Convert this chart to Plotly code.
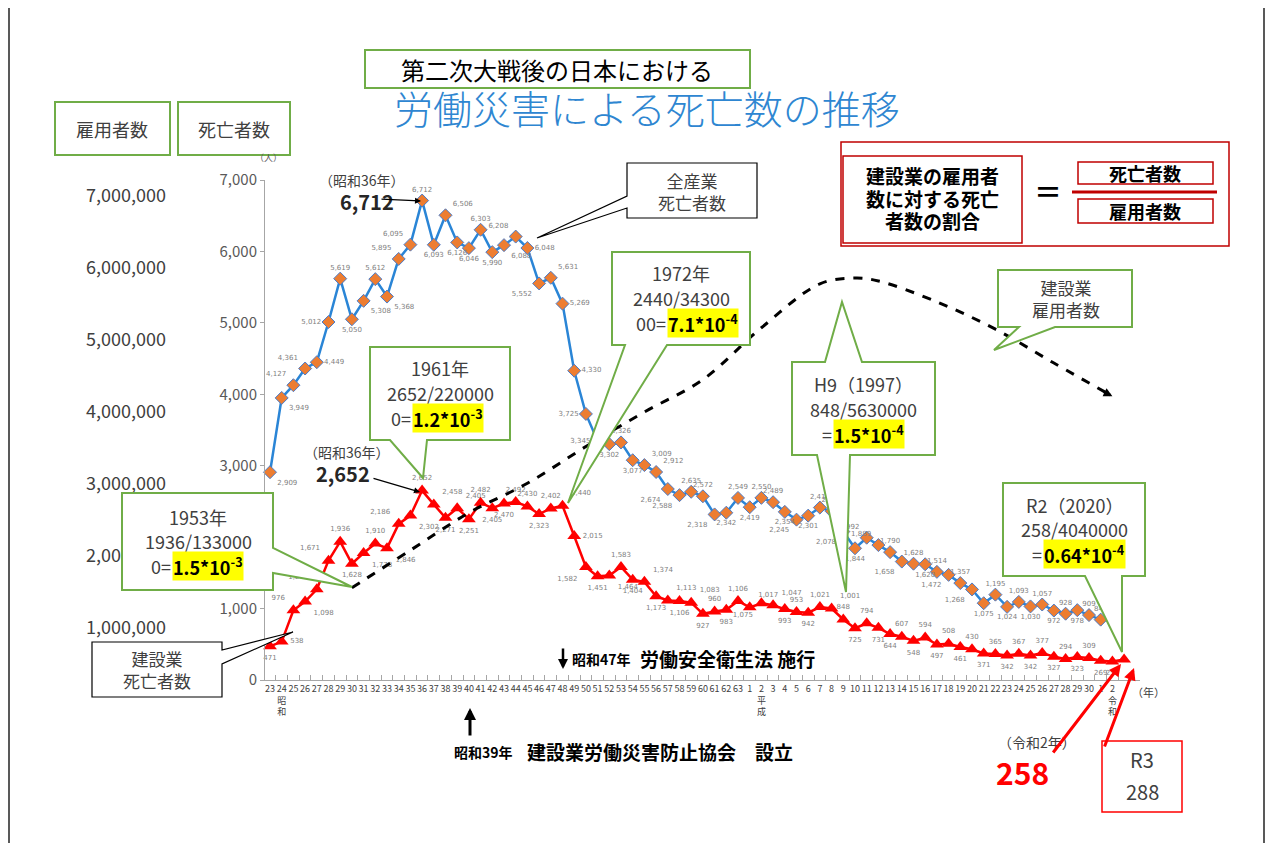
import plotly.graph_objects as go

# ---------------- data ----------------
years = list(range(1948, 2021))  # 昭和23年 .. 令和2年
tick_labels = [
    "23", "24<br>昭<br>和", "25", "26", "27", "28", "29", "30", "31", "32", "33", "34", "35", "36", "37", "38",
    "39", "40", "41", "42", "43", "44", "45", "46", "47", "48", "49", "50", "51", "52", "53", "54", "55",
    "56", "57", "58", "59", "60", "61", "62", "63",
    "1", "2<br>平<br>成", "3", "4", "5", "6", "7", "8", "9", "10", "11", "12", "13", "14", "15", "16", "17",
    "18", "19", "20", "21", "22", "23", "24", "25", "26", "27", "28", "29", "30",
    "1", "2<br>令<br>和",
]

# 全産業 死亡者数 (昭和23年 .. 令和元年)
all_industry_deaths = [
    2909, 3949, 4127, 4361, 4449, 5012, 5619, 5050, 5308, 5612,
    5368, 5895, 6095, 6712, 6093, 6506, 6126, 6046, 6303, 5990,
    6088, 6208, 6048, 5552, 5631, 5269, 4330, 3725, 3345, 3302,
    3326, 3077, 3009, 2912, 2674, 2588, 2635, 2572, 2318, 2342,
    2549,
    2419, 2550, 2489, 2354, 2245, 2301, 2414, 2363, 2078, 1844,
    1992, 1889, 1790, 1658, 1628, 1620, 1514, 1472, 1357, 1268,
    1075, 1195, 1024, 1093, 1030, 1057, 972, 928, 978, 909,
    845,
]

# 建設業 死亡者数 (昭和23年 .. 令和2年)
construction_deaths = [
    471, 538, 976, 1098, 1270, 1671, 1936, 1628, 1778, 1910,
    1846, 2186, 2302, 2652, 2458, 2271, 2405, 2251, 2482, 2405,
    2470, 2492, 2430, 2323, 2402, 2440, 2015, 1582, 1451, 1464,
    1583, 1404, 1374, 1173, 1113, 1106, 1083, 927, 960, 983,
    1106,
    1017, 1075, 1047, 993, 953, 942, 1021, 1001, 848, 725,
    794, 731, 644, 607, 548, 594, 497, 508, 461, 430,
    371, 365, 342, 367, 342, 377, 327, 294, 323, 309,
    269, 258,
]
r3_year = 2021
r3_value = 288

# 建設業 雇用者数 (estimated from the drawn curve)
emp_years = [1955, 1960, 1965, 1970, 1975, 1980, 1985, 1990, 1995, 1998, 2000, 2005, 2010, 2015, 2020]
emp_values = [1560000, 2080000, 2600000, 3010000, 3520000, 4000000, 4450000, 5170000, 5780000,
              5860000, 5820000, 5530000, 5150000, 4680000, 4220000]

# ---------------- styles ----------------
FONT = "Noto Sans CJK JP"
GREEN = "#70AD47"
DARK = "#404040"
PAGE_OFF = 8                                   # default body margin of the html page
FIG_W, FIG_H = 1280 - 2 * PAGE_OFF, 851 - 2 * PAGE_OFF
L_PX, R_PX, T_PX, B_PX = 40, 1140, 180, 680    # paper box in page pixels

blue_pos = [
    "bottom right", "bottom right", "top left", "top left", "middle right", "middle left", "top center",
    "bottom center", "bottom right", "top center", "bottom right", "top left", "top left", "top center",
    "bottom center", "top right", "bottom center", "bottom center", "top center", "bottom center",
    "bottom right", "top left", "middle right", "bottom left", "top right", "middle right", "middle right",
    "middle left", "middle left", "bottom center", "top center", "bottom center", "top right", "top right",
    "bottom left", "bottom left", "top center", "top center", "bottom left", "bottom center", "top center",
    "bottom center", "top center", "top center", "bottom center", "bottom left", "bottom center",
    "top center", "top center", "bottom left", "bottom center", "top left", "top left", "top center",
    "bottom left", "top center", "bottom center", "top center", "bottom left", "top center", "bottom left",
    "bottom center", "top center", "bottom center", "top center", "bottom center", "top center",
    "bottom center", "top center", "bottom center", "top center", "top center",
]
red_pos = [
    "bottom center", "middle right", "top left", "bottom right", "top left", "top left", "top center",
    "bottom center", "bottom right", "top center", "bottom right", "top left", "bottom right", "top center",
    "top right", "bottom center", "top right", "bottom center", "top center", "bottom center",
    "bottom center", "top center", "top center", "bottom center", "top center", "top right", "middle right",
    "bottom left", "bottom center", "bottom right", "top center", "bottom center", "top right",
    "bottom center", "top right", "bottom center", "top right", "bottom center", "top center",
    "bottom center", "top center",
    "top right", "bottom left", "top right", "bottom center", "top center", "bottom center", "top center",
    "top right", "top center", "bottom center", "top center", "bottom center", "bottom center", "top center",
    "bottom center", "top center", "bottom center", "top center", "bottom center", "top center",
    "bottom center", "top center", "bottom center", "top center", "bottom center", "top center",
    "bottom center", "top center", "bottom center", "top center", "bottom center", "bottom center",
    "top center",
]


def P(x, y):
    return (x - L_PX) / (R_PX - L_PX), (B_PX - y) / (B_PX - T_PX)


def txt(x, y, s, size, color=DARK, bold=False, xanchor="center", yanchor="middle", bg=None, weight=None):
    X, Y = P(x, y)
    if bold:
        s = f"<b>{s}</b>"
    f = dict(family=FONT, size=size, color=color)
    if weight:
        f["weight"] = weight
    d = dict(x=X, y=Y, xref="paper", yref="paper", text=s, showarrow=False,
             font=f, xanchor=xanchor, yanchor=yanchor, borderpad=0)
    if bg:
        d["bgcolor"] = bg
    return d


def arrow(xt, yt, xh, yh, color="#000000", width=1.2, head=2, size=1.0):
    X, Y = P(xh, yh)
    return dict(x=X, y=Y, xref="paper", yref="paper", ax=xt - xh, ay=yt - yh, axref="pixel", ayref="pixel",
                text="", showarrow=True, arrowhead=head, arrowwidth=width, arrowcolor=color,
                arrowsize=size, standoff=0)


def rect(x0, y0, x1, y1, color=GREEN, width=2, fill="white"):
    X0, Y0 = P(x0, y0)
    X1, Y1 = P(x1, y1)
    return dict(type="rect", xref="paper", yref="paper", x0=X0, y0=Y1, x1=X1, y1=Y0,
                line=dict(color=color, width=width), fillcolor=fill, layer="above")


def line(x0, y0, x1, y1, color, width):
    X0, Y0 = P(x0, y0)
    X1, Y1 = P(x1, y1)
    return dict(type="line", xref="paper", yref="paper", x0=X0, y0=Y0, x1=X1, y1=Y1,
                line=dict(color=color, width=width), layer="above")


def poly(points, color=GREEN, width=2, fill="white"):
    parts = []
    for i, (x, y) in enumerate(points):
        X, Y = P(x, y)
        parts.append(("M" if i == 0 else "L") + f"{X:.5f},{Y:.5f}")
    return dict(type="path", xref="paper", yref="paper", path=" ".join(parts) + " Z",
                line=dict(color=color, width=width), fillcolor=fill, layer="above")


# ---------------- traces ----------------
fig = go.Figure()

fig.add_trace(go.Scatter(
    x=years[:len(all_industry_deaths)], y=all_industry_deaths, mode="lines+markers+text",
    line=dict(color="#2A85D6", width=2.5),
    marker=dict(symbol="diamond", size=10, color="#ED7D31", line=dict(color="#4A7CC9", width=1)),
    text=[f"{v:,}" for v in all_industry_deaths], textposition=blue_pos,
    textfont=dict(family="DejaVu Sans", size=7, color="#808080"),
    cliponaxis=False, showlegend=False, hoverinfo="skip",
))

red_x = years[:len(construction_deaths)] + [r3_year]
red_y = construction_deaths + [r3_value]
fig.add_trace(go.Scatter(
    x=red_x, y=red_y, mode="lines+markers+text",
    line=dict(color="#FF0000", width=2.5),
    marker=dict(symbol="triangle-up", size=12, color="#FF0000"),
    text=[f"{v:,}" for v in construction_deaths] + [""], textposition=red_pos,
    textfont=dict(family="DejaVu Sans", size=7, color="#808080"),
    cliponaxis=False, showlegend=False, hoverinfo="skip",
))

fig.add_trace(go.Scatter(
    x=emp_years, y=emp_values, yaxis="y2", mode="lines",
    line=dict(color="#000000", width=3, dash="dash", shape="spline", smoothing=1.0),
    showlegend=False, hoverinfo="skip", cliponaxis=False,
))

# ---------------- shapes ----------------
shapes = []
# slide borders
for bx in (9, 1264):
    shapes.append(dict(type="line", xref="paper", yref="paper", x0=P(bx, 0)[0], x1=P(bx, 0)[0],
                       y0=P(0, 8)[1], y1=P(0, 851)[1], line=dict(color="#222222", width=1.5), layer="above"))
# title box
shapes.append(rect(365, 50, 750, 88))
# header boxes
shapes.append(rect(55, 102, 170, 155))
shapes.append(rect(178, 102, 290, 155))
# formula box
shapes.append(rect(841, 142, 1229, 246, color="#C00000", width=1.5))
shapes.append(rect(843, 156, 1022, 243, color="#C00000", width=1.5))
shapes.append(line(1072, 192, 1217, 192, "#C00000", 3))
shapes.append(rect(1078, 162, 1213, 184, color="#C00000", width=1.5))
shapes.append(rect(1078, 199, 1213, 223, color="#C00000", width=1.5))
# callouts
shapes.append(poly([(627, 163), (757, 163), (757, 218), (627, 218), (627, 208), (537, 238), (627, 196)],
                   color="#000000", width=1.2))
shapes.append(poly([(998, 270), (1132, 270), (1132, 327), (1055, 327), (994, 350), (1019, 327), (998, 327)]))
shapes.append(poly([(92, 642), (222, 642), (222, 650), (293, 632), (222, 664), (222, 697), (92, 697)],
                   color="#000000", width=1.2))
shapes.append(poly([(122, 493), (273, 493), (273, 548), (352, 587), (273, 573), (273, 590), (122, 590)]))
shapes.append(poly([(370, 347), (510, 347), (510, 440), (427, 440), (423, 478), (390, 440), (370, 440)]))
shapes.append(poly([(612, 252), (750, 252), (750, 345), (667, 345), (568, 503), (625, 345), (612, 345)]))
shapes.append(poly([(792, 362), (825, 362), (842, 302), (862, 362), (935, 362), (935, 455), (850, 455),
                    (846, 592), (817, 455), (792, 455)]))
shapes.append(poly([(1003, 483), (1145, 483), (1145, 576), (1122, 576), (1122, 652), (1085, 576),
                    (1003, 576)]))
# R3 box
shapes.append(rect(1102, 741, 1182, 812, color="#FF0000", width=1.5))

# ---------------- annotations ----------------
ann = []
ann.append(txt(557, 69, "第二次大戦後の日本における", 24, "#000000"))
ann.append(txt(647, 107, "労働災害による死亡数の推移", 39, "#2E86D1", weight=300))
ann.append(txt(112, 129, "雇用者数", 18))
ann.append(txt(234, 129, "死亡者数", 18))
ann.append(txt(268, 158, "（人）", 9, "#595959"))
ann.append(txt(1148, 692, "（年）", 11))

# formula
for yy, s in [(175, "建設業の雇用者"), (198, "数に対する死亡"), (221, "者数の割合")]:
    ann.append(txt(932, yy, s, 19, "#000000", bold=True))
ann.append(txt(1048, 191, "＝", 28, "#000000", bold=True))
ann.append(txt(1145, 173, "死亡者数", 18, "#000000", bold=True))
ann.append(txt(1145, 211, "雇用者数", 18, "#000000", bold=True))

# peak notes
ann.append(txt(362, 180, "（昭和36年）", 14))
ann.append(txt(367, 201, "6,712", 20, "#262626", bold=True))
ann.append(arrow(380, 199, 421, 201))
ann.append(txt(347, 452, "（昭和36年）", 14))
ann.append(txt(343, 473, "2,652", 20, "#262626", bold=True))
ann.append(arrow(372, 478, 420, 492))

# callout texts
ann.append(txt(692, 191, "全産業<br>死亡者数", 17))
ann.append(txt(1066, 298, "建設業<br>雇用者数", 17))
ann.append(txt(157, 669, "建設業<br>死亡者数", 17))

HL = "#FFFF00"


def ratio_box(cx, ys, l1, l2, pre, hl, split_x):
    return [txt(cx, ys[0], l1, 18), txt(cx, ys[1], l2, 18),
            txt(split_x, ys[2], pre, 18, xanchor="right"),
            txt(split_x, ys[2], hl, 18, "#000000", bold=True, xanchor="left", bg=HL)]


ann += ratio_box(198, (517, 541, 566), "1953年", "1936/133000", "0=", "1.5*10<sup>-3</sup>", 172)
ann += ratio_box(440, (368, 393, 418), "1961年", "2652/220000", "0=", "1.2*10<sup>-3</sup>", 412)
ann += ratio_box(681, (273, 298, 323), "1972年", "2440/34300", "00=", "7.1*10<sup>-4</sup>", 667)
ann += ratio_box(863, (384, 409, 434), "H9（1997）", "848/5630000", "=", "1.5*10<sup>-4</sup>", 833)
ann += ratio_box(1074, (505, 529, 554), "R2（2020）", "258/4040000", "=", "0.64*10<sup>-4</sup>", 1043)

# bottom notes
ann.append(arrow(563, 647, 563, 669, width=2.5, head=2, size=0.8))
ann.append(txt(571, 659, "昭和47年", 14, "#000000", bold=True, xanchor="left"))
ann.append(txt(639, 658, "労働安全衛生法 施行", 19, "#000000", bold=True, xanchor="left"))
ann.append(arrow(470, 737, 470, 708, width=3, head=2, size=0.8))
ann.append(txt(453, 752, "昭和39年", 14, "#000000", bold=True, xanchor="left"))
ann.append(txt(526, 751, "建設業労働災害防止協会　設立", 19, "#000000", bold=True, xanchor="left"))

ann.append(txt(1037, 742, "（令和2年）", 14))
ann.append(txt(1022, 772, "258", 30, "#FF0000", bold=True))
ann.append(arrow(1052, 754, 1121, 664, color="#FF0000", width=3, head=2, size=0.8))
ann.append(arrow(1104, 748, 1134, 668, color="#FF0000", width=3, head=2, size=0.8))
ann.append(txt(1142, 759, "R3", 20))
ann.append(txt(1142, 791, "288", 20))

# arrow tip of the employment curve
ann.append(dict(x=emp_years[-1], y=emp_values[-1], xref="x", yref="y2", ax=-10, ay=-5,
                axref="pixel", ayref="pixel", text="", showarrow=True, arrowhead=2, arrowwidth=2.5,
                arrowcolor="#000000", arrowsize=0.7, standoff=0))

# ---------------- layout ----------------
px_per_year = 11.7
x_left = years[0] - (270 - 265) / px_per_year
x_right = years[0] + (R_PX - 270) / px_per_year
emp_px_per_million = 72.0
y2_low = (700 - B_PX) / emp_px_per_million * 1e6
y2_high = (700 - T_PX) / emp_px_per_million * 1e6

fig.update_layout(
    width=FIG_W, height=FIG_H,
    margin=dict(l=L_PX - PAGE_OFF, r=FIG_W - (R_PX - PAGE_OFF), t=T_PX - PAGE_OFF,
                b=FIG_H - (B_PX - PAGE_OFF), autoexpand=False),
    paper_bgcolor="white", plot_bgcolor="white",
    font=dict(family=FONT, color=DARK),
    showlegend=False,
    xaxis=dict(
        domain=[(265 - L_PX) / (R_PX - L_PX), 1], range=[x_left, x_right],
        tickmode="array", tickvals=years, ticktext=tick_labels, tickangle=0,
        tickfont=dict(family=FONT, size=9, color=DARK), ticks="",
        showline=True, linecolor="#A6A6A6", linewidth=1, showgrid=False, zeroline=False,
        minor=dict(ticks="inside", ticklen=5, tickcolor="#A6A6A6", tickmode="linear",
                   tick0=years[0] - 0.5, dtick=1, showgrid=False),
    ),
    yaxis=dict(
        range=[0, 7000], tickmode="array", tickvals=list(range(0, 7001, 1000)), tickformat=",",
        tickfont=dict(family=FONT, size=15, color="#595959"), ticks="outside", ticklen=4,
        tickcolor="#A6A6A6", showline=True, linecolor="#A6A6A6", linewidth=1,
        showgrid=False, zeroline=False,
    ),
    yaxis2=dict(
        overlaying="y", anchor="free", position=(166 - L_PX) / (R_PX - L_PX), side="left",
        range=[y2_low, y2_high], tickmode="array", tickvals=[i * 1000000 for i in range(1, 8)],
        tickformat=",", tickfont=dict(family=FONT, size=18, color=DARK), ticks="",
        showline=False, showgrid=False, zeroline=False,
    ),
    shapes=shapes,
    annotations=ann,
)

fig.write_html("out.html")
